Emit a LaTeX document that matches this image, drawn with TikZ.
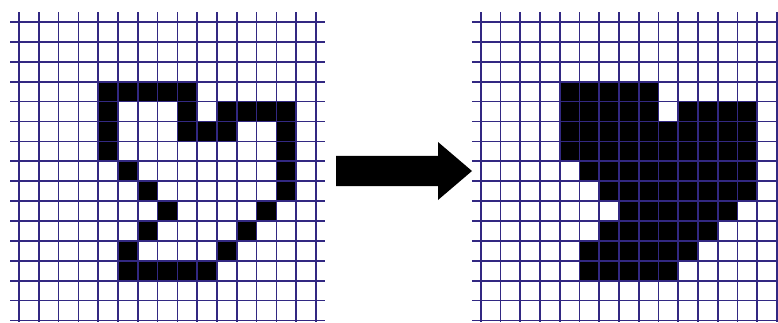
\documentclass[tikz,border=0pt]{standalone}
\begin{document}
\begin{tikzpicture}[x=1pt,y=-1pt]
\definecolor{gridnavy}{RGB}{50,40,130}
\tikzset{
  gridline/.style={draw=gridnavy,line width=1.7pt},
  pix/.style={fill=black},
  bigarrow/.style={fill=black}
}
\useasboundingbox (0,0) rectangle (778,323);
\fill[white] (0,0) rectangle (778,323);
% ---------- left grid ----------
\begin{scope}[shift={(19,22)},x=19.8pt,y=-19.9pt]
  \foreach \c/\r in {4/3,5/3,6/3,7/3,8/3,
                     4/4,8/4,10/4,11/4,12/4,13/4,
                     4/5,8/5,9/5,10/5,13/5,
                     4/6,13/6, 5/7,13/7, 6/8,13/8, 7/9,12/9,
                     6/10,11/10, 5/11,10/11,
                     5/12,6/12,7/12,8/12,9/12}
    \fill[pix] (\c,\r) rectangle ++(1,1);
  \foreach \i in {0,...,15}{
    \draw[gridline] (-0.45,\i) -- (15.45,\i);
    \draw[gridline] (\i,-0.5) -- (\i,15.1);
  }
\end{scope}
% ---------- right grid ----------
\begin{scope}[shift={(480.8,22)},x=19.75pt,y=-19.9pt]
  \foreach \r/\a/\b in {3/4/8, 4/4/8, 4/10/13, 5/4/13, 6/4/13, 7/5/13,
                        8/6/13, 9/7/12, 10/6/11, 11/5/10, 12/5/9}
    \fill[pix] (\a,\r) rectangle (\b+1,\r+1);
  \foreach \i in {0,...,15}{
    \draw[gridline] (-0.45,\i) -- (15.1,\i);
    \draw[gridline] (\i,-0.5) -- (\i,15.1);
  }
\end{scope}
% ---------- arrow ----------
\fill[bigarrow] (336,156) -- (438,156) -- (438,142) -- (472,171)
  -- (438,200) -- (438,186) -- (336,186) -- cycle;
\end{tikzpicture}
\end{document}
